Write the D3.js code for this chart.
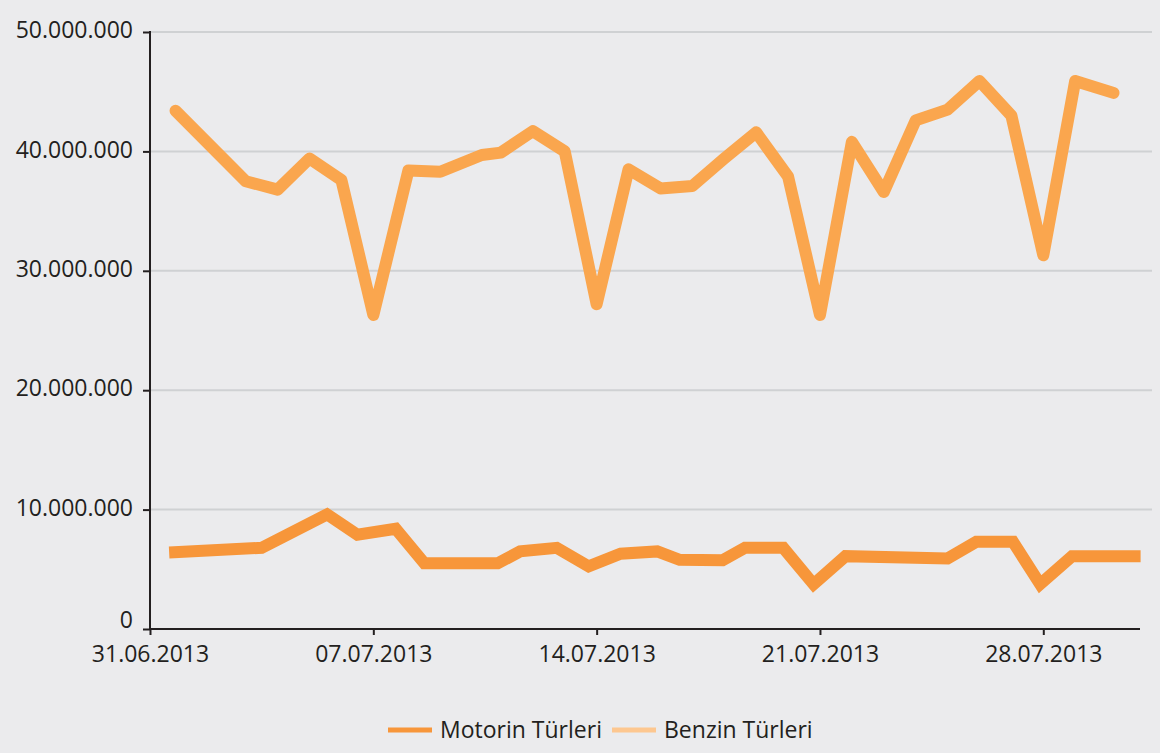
<!DOCTYPE html>
<html>
<head>
<meta charset="utf-8">
<script src="https://cdn.jsdelivr.net/npm/d3@7"></script>
<style>
  html, body { margin: 0; padding: 0; background: #ebebed; }
  svg { display: block; }
  .axis text { font-family: "Open Sans", sans-serif; font-size: 23px; fill: #231f20; }
  .legend text { font-family: "Open Sans", sans-serif; font-size: 23px; fill: #231f20; }
</style>
</head>
<body>
<div id="chart"></div>
<script>
// x positions are day offsets from the first tick (31.06.2013)
var tickDays = [0, 7, 14, 21, 28];
var tickLabels = ["31.06.2013", "07.07.2013", "14.07.2013", "21.07.2013", "28.07.2013"];
var yTicks = [0, 10000000, 20000000, 30000000, 40000000, 50000000];

// upper line
var benzinDays = [0.8, 3, 4, 5, 6, 7, 8.1, 9.1, 10.4, 11, 12, 13, 14, 15, 16, 17, 18, 19, 20, 21, 22, 23, 24, 25, 26, 27, 28, 29, 30.2];
var benzinValues = [43400000, 37500000, 36800000, 39400000, 37600000, 26300000, 38400000, 38300000, 39700000, 39900000,
  41700000, 40000000, 27200000, 38500000, 36900000, 37100000, 39400000, 41600000, 37900000, 26300000,
  40800000, 36600000, 42600000, 43500000, 45900000, 43000000, 31300000, 45900000, 44900000];

// lower line
var motorinDays = [0.6, 3.5, 5.55, 6.5, 7.7, 8.6, 10.9, 11.6, 12.75, 13.75, 14.75, 15.9, 16.6, 17.95, 18.65, 19.85,
  20.8, 21.8, 25, 25.9, 27.05, 27.9, 28.9, 31.05];
var motorinValues = [6400000, 6800000, 9600000, 7900000, 8400000, 5500000, 5500000, 6500000, 6800000, 5250000,
  6300000, 6500000, 5800000, 5750000, 6800000, 6800000, 3750000, 6100000, 5900000, 7300000, 7300000,
  3750000, 6100000, 6100000];

var legendNames = ["Motorin Türleri", "Benzin Türleri"];
var legendColors = ["#f7963a", "#fdc790"];

var width = 1160, height = 753;
var svg = d3.select("#chart").append("svg")
  .attr("width", width)
  .attr("height", height);

var x = d3.scaleLinear().domain([0, 31]).range([150, 1139]);
var y = d3.scaleLinear().domain([0, 50000000]).range([629, 32]);

var trFormat = d3.formatLocale({ decimal: ",", thousands: ".", grouping: [3], currency: ["", ""] }).format(",d");

// gridlines
svg.append("g")
  .selectAll("line")
  .data(yTicks.slice(1))
  .enter().append("line")
  .attr("x1", 150)
  .attr("x2", 1152)
  .attr("y1", function(d) { return y(d); })
  .attr("y2", function(d) { return y(d); })
  .attr("stroke", "#cfd1d3")
  .attr("stroke-width", 2);

var yAxis = d3.axisLeft(y).tickValues(yTicks).tickFormat(trFormat).tickSize(7).tickPadding(10);
var yG = svg.append("g")
  .attr("class", "axis")
  .attr("transform", "translate(150,0)")
  .call(yAxis);
yG.select(".domain").remove();
yG.selectAll(".tick line").attr("stroke", "#231f20").attr("stroke-width", 2);
yG.selectAll(".tick text").attr("dy", function(d) { return d === 0 ? "-0.05em" : "0.25em"; });
yG.append("line")
  .attr("x1", 0).attr("x2", 0)
  .attr("y1", y(50000000) - 1).attr("y2", y(0) + 1)
  .attr("stroke", "#231f20").attr("stroke-width", 2);

var xAxis = d3.axisBottom(x).tickValues(tickDays)
  .tickFormat(function(d, i) { return tickLabels[i]; })
  .tickSize(6).tickPadding(11);
var xG = svg.append("g")
  .attr("class", "axis")
  .attr("transform", "translate(0," + y(0) + ")")
  .call(xAxis);
xG.select(".domain").remove();
xG.selectAll(".tick line").attr("stroke", "#231f20").attr("stroke-width", 2);
xG.append("line")
  .attr("x1", x(0)).attr("x2", x(31) + 1)
  .attr("y1", 0).attr("y2", 0)
  .attr("stroke", "#231f20").attr("stroke-width", 2);

var line = d3.line()
  .x(function(d) { return x(d[0]); })
  .y(function(d) { return y(d[1]); });

svg.append("path")
  .datum(benzinDays.map(function(d, i) { return [d, benzinValues[i]]; }))
  .attr("d", line)
  .attr("fill", "none")
  .attr("stroke", "#faa64e")
  .attr("stroke-width", 12)
  .attr("stroke-linejoin", "round")
  .attr("stroke-linecap", "round");

svg.append("path")
  .datum(motorinDays.map(function(d, i) { return [d, motorinValues[i]]; }))
  .attr("d", line)
  .attr("fill", "none")
  .attr("stroke", "#f7963a")
  .attr("stroke-width", 12)
  .attr("stroke-linejoin", "miter")
  .attr("stroke-linecap", "butt");

// legend
var legend = svg.append("g").attr("class", "legend");
var legendX = [388, 612];
legendNames.forEach(function(name, i) {
  legend.append("line")
    .attr("x1", legendX[i]).attr("x2", legendX[i] + 44)
    .attr("y1", 730).attr("y2", 730)
    .attr("stroke", legendColors[i])
    .attr("stroke-width", 5);
  legend.append("text")
    .attr("x", legendX[i] + 52)
    .attr("y", 738)
    .text(name);
});
</script>
</body>
</html>
